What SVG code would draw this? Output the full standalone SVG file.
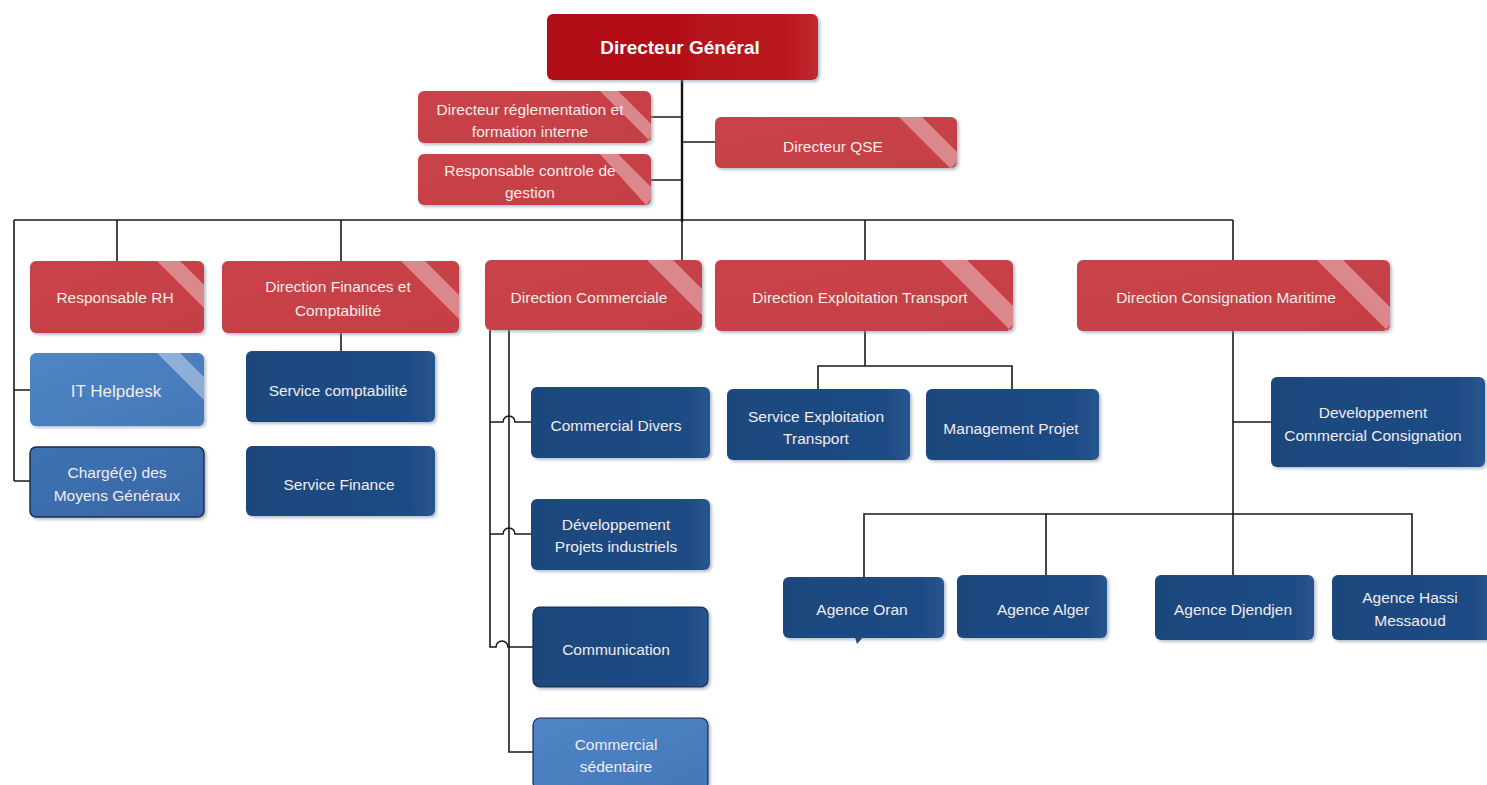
<svg xmlns="http://www.w3.org/2000/svg" width="1487" height="785" viewBox="0 0 1487 785">
<defs>
<linearGradient id="gRed" x1="0" y1="0" x2="1" y2="1"><stop offset="0" stop-color="#c94348"/><stop offset="1" stop-color="#c44046"/></linearGradient>
<linearGradient id="gDG" x1="0" y1="0" x2="1" y2="0"><stop offset="0" stop-color="#b00d16"/><stop offset="0.85" stop-color="#b7141c"/><stop offset="1" stop-color="#c02a31"/></linearGradient>
<linearGradient id="gNavy" x1="0" y1="0" x2="1" y2="0"><stop offset="0" stop-color="#1d477d"/><stop offset="0.88" stop-color="#1f4c85"/><stop offset="1" stop-color="#28568f"/></linearGradient>
<linearGradient id="gLight" x1="0" y1="0" x2="1" y2="1"><stop offset="0" stop-color="#4f86c6"/><stop offset="1" stop-color="#4477b8"/></linearGradient>
<linearGradient id="gMid" x1="0" y1="0" x2="1" y2="1"><stop offset="0" stop-color="#3e72b2"/><stop offset="1" stop-color="#3868a6"/></linearGradient>
<filter id="sh" x="-10%" y="-10%" width="125%" height="130%"><feDropShadow dx="2" dy="2" stdDeviation="1.5" flood-color="#7a8aa0" flood-opacity="0.55"/></filter>
</defs>
<style>
.red{fill:url(#gRed);filter:url(#sh)}
.dg{fill:url(#gDG);filter:url(#sh)}
.navy{fill:url(#gNavy);filter:url(#sh)}
.light{fill:url(#gLight);filter:url(#sh)}
.mid{fill:url(#gMid);filter:url(#sh);stroke:#1b2c44;stroke-width:1.5}
.bd{stroke:#14284a;stroke-width:1.2}
.band{fill:#ffffff;fill-opacity:0.38}
text{font-family:"Liberation Sans",Arial,sans-serif;font-size:15.5px;fill:#f3ecec;text-anchor:middle}
.t16{font-size:17px}
.big{font-size:19px;font-weight:bold;fill:#ffffff}
.ln{fill:none;stroke:#1a1a1a;stroke-width:1.6}
.trunk{fill:none;stroke:#111;stroke-width:2.4}
</style>
<g id="connectors">
<path class="trunk" d="M682,80 V222"/>
<path class="ln" d="M651,117 H682 M651,180 H682 M682,142 H715"/>
<path class="ln" d="M14,220 H1233"/>
<path class="ln" d="M14,220 V481 M14,390 H30 M14,481 H30"/>
<path class="ln" d="M117,220 V261 M341,220 V261 M682,220 V260 M865,220 V260 M1233,220 V260"/>
<path class="ln" d="M341,333 V351"/>
<path class="ln" d="M490,330 V647 H496 A6,6 0 0 1 508,647 H533"/>
<path class="ln" d="M509,330 V752 H533"/>
<path class="ln" d="M490,422 H503 A6,6 0 0 1 515,422 H531 M490,534 H503 A6,6 0 0 1 515,534 H531"/>
<path class="ln" d="M865,331 V366 M818,390 V366 H1012 V390"/>
<path class="ln" d="M1233,331 V514 M1233,422 H1271"/>
<path class="ln" d="M864,577 V514 H1412 V575 M1046,514 V575 M1233,514 V575"/>
</g>
<g id="n-dg"><rect class="dg" x="547" y="14" width="271" height="66" rx="6"/><text class="big" x="680" y="54">Directeur Général</text></g>
<g id="n-reg"><rect class="red" x="418" y="91" width="233" height="52" rx="6"/><polygon class="band" points="600,91 618,91 651,124 651,137 645,143 652,143"/><text x="530" y="115">Directeur réglementation et</text><text x="530" y="137">formation interne</text></g>
<g id="n-ctrl"><rect class="red" x="418" y="154" width="233" height="51" rx="6"/><polygon class="band" points="600,154 618,154 651,187 651,199 646,205"/><text x="530" y="176">Responsable controle de</text><text x="530" y="198">gestion</text></g>
<g id="n-qse"><rect class="red" x="715" y="117" width="242" height="51" rx="6"/><polygon class="band" points="899,117 922,117 957,152 957,162 951,168 950,168"/><text x="833" y="152">Directeur QSE</text></g>
<g id="n-rh"><rect class="red" x="30" y="261" width="174" height="72" rx="6"/><polygon class="band" points="157,261 180,261 204,285 204,308"/><text x="115" y="303">Responsable RH</text></g>
<g id="n-fin"><rect class="red" x="222" y="261" width="237" height="72" rx="6"/><polygon class="band" points="401,261 425,261 459,295 459,319"/><text x="338" y="292">Direction Finances et</text><text x="338" y="316">Comptabilité</text></g>
<g id="n-com"><rect class="red" x="485" y="260" width="217" height="70" rx="6"/><polygon class="band" points="647,260 673,260 702,289 702,315"/><text x="589" y="303">Direction Commerciale</text></g>
<g id="n-exp"><rect class="red" x="715" y="260" width="298" height="71" rx="6"/><polygon class="band" points="940,260 967,260 1013,306 1013,325 1007,331 1011,331"/><text x="860" y="303">Direction Exploitation Transport</text></g>
<g id="n-cons"><rect class="red" x="1077" y="260" width="313" height="71" rx="6"/><polygon class="band" points="1317,260 1343,260 1390,307 1390,325 1384,331 1388,331"/><text x="1226" y="303">Direction Consignation Maritime</text></g>
<g id="n-it"><rect class="light" x="30" y="353" width="174" height="73" rx="6"/><polygon class="band" points="157,353 180,353 204,377 204,400" fill-opacity="0.25"/><text class="t16" x="116" y="397">IT Helpdesk</text></g>
<g id="n-mg"><rect class="mid" x="30" y="447" width="174" height="70" rx="6"/><text x="117" y="478">Chargé(e) des</text><text x="117" y="501">Moyens Généraux</text></g>
<g id="n-sc"><rect class="navy" x="246" y="351" width="189" height="71" rx="6"/><text x="338" y="396">Service comptabilité</text></g>
<g id="n-sf"><rect class="navy" x="246" y="446" width="189" height="70" rx="6"/><text x="339" y="490">Service Finance</text></g>
<g id="n-cd"><rect class="navy" x="531" y="387" width="179" height="71" rx="6"/><text x="616" y="431">Commercial Divers</text></g>
<g id="n-dpi"><rect class="navy" x="531" y="499" width="179" height="71" rx="6"/><text x="616" y="530">Développement</text><text x="616" y="552">Projets industriels</text></g>
<g id="n-cm"><rect class="navy bd" x="533" y="607" width="175" height="80" rx="7"/><text x="616" y="655">Communication</text></g>
<g id="n-cs"><rect class="light bd" x="533" y="718" width="175" height="72" rx="7"/><text x="616" y="750">Commercial</text><text x="616" y="772">sédentaire</text></g>
<g id="n-set"><rect class="navy" x="727" y="389" width="183" height="71" rx="6"/><text x="816" y="422">Service Exploitation</text><text x="816" y="444">Transport</text></g>
<g id="n-mp"><rect class="navy" x="926" y="389" width="173" height="71" rx="6"/><text x="1011" y="434">Management Projet</text></g>
<g id="n-dcc"><rect class="navy" x="1271" y="377" width="214" height="90" rx="6"/><text x="1373" y="418">Developpement</text><text x="1373" y="441">Commercial Consignation</text></g>
<g id="n-oran"><rect class="navy" x="783" y="577" width="161" height="61" rx="6"/><polygon points="855,637 863,637 857,644" fill="#1f4b82"/><text x="862" y="615">Agence Oran</text></g>
<g id="n-alger"><rect class="navy" x="957" y="575" width="150" height="63" rx="6"/><text x="1043" y="615">Agence Alger</text></g>
<g id="n-dj"><rect class="navy" x="1155" y="575" width="159" height="65" rx="6"/><text x="1233" y="615">Agence Djendjen</text></g>
<g id="n-hm"><rect class="navy" x="1332" y="575" width="160" height="65" rx="6"/><text x="1410" y="603">Agence Hassi</text><text x="1410" y="626">Messaoud</text></g>
</svg>
